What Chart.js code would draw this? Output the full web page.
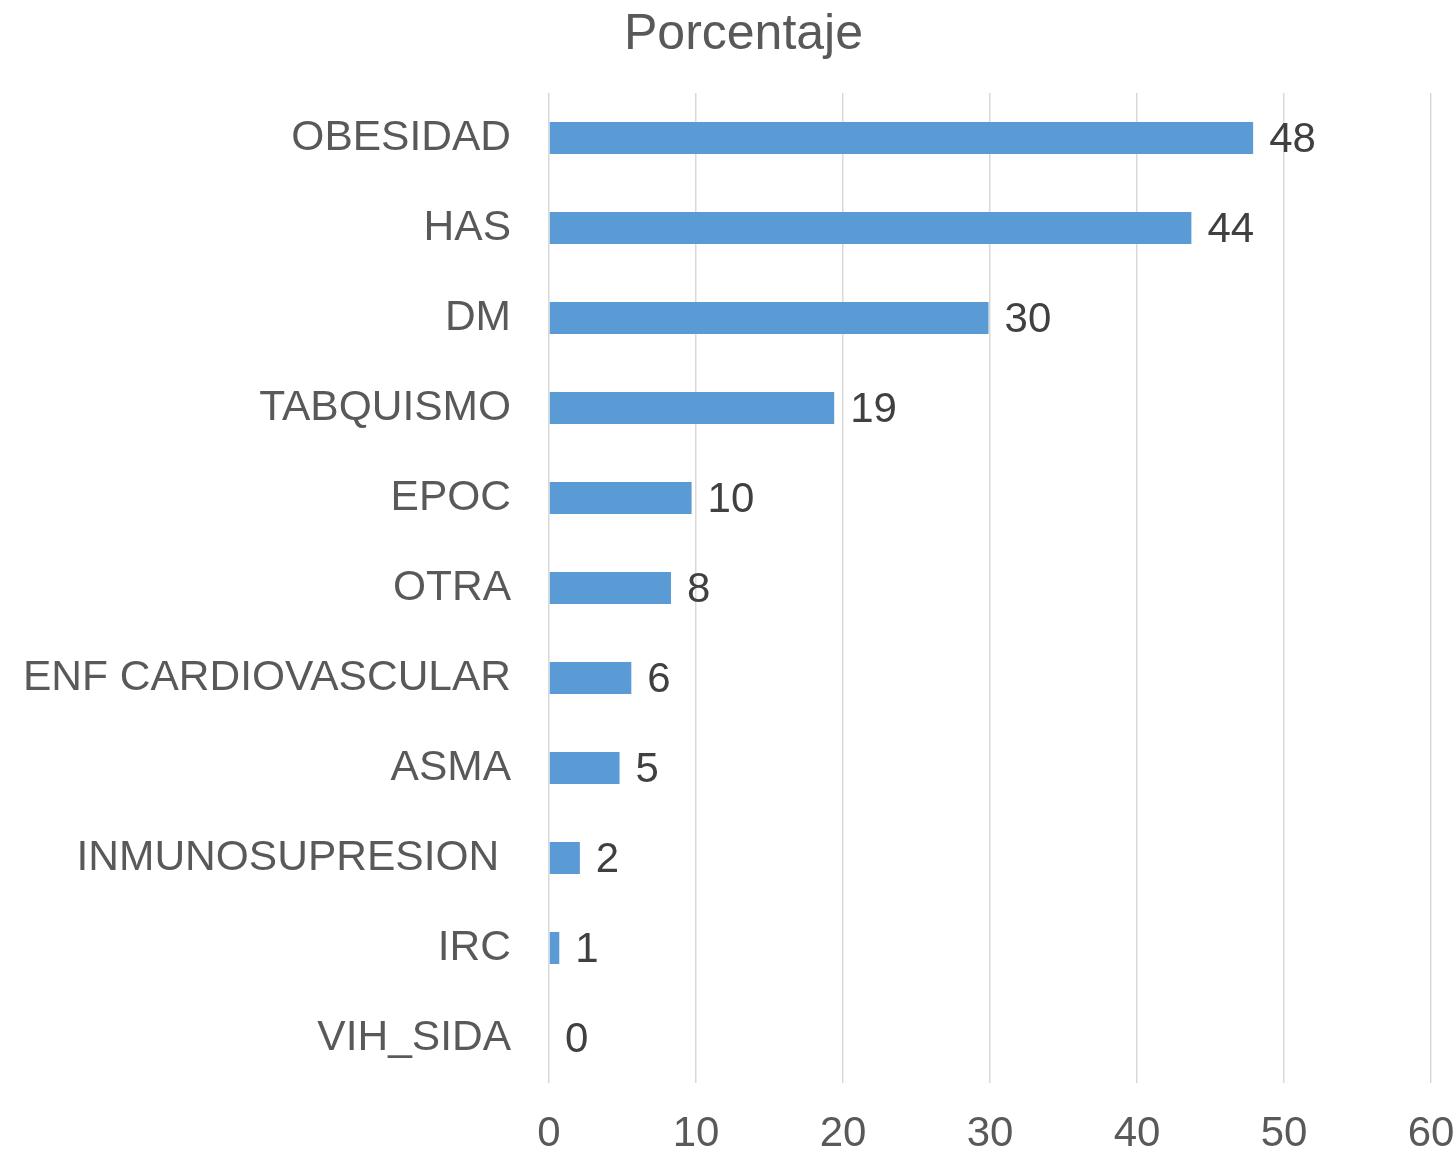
<!DOCTYPE html>
<html>
<head>
<meta charset="utf-8">
<script src="https://cdn.jsdelivr.net/npm/chart.js@4/dist/chart.umd.min.js"></script>
<style>
  html, body { margin: 0; padding: 0; background: #ffffff; }
  #wrap { width: 1455px; height: 1150px; position: relative; }
</style>
</head>
<body>
<div id="wrap"><canvas id="c"></canvas></div>
<script>
const categories = ['OBESIDAD', 'HAS', 'DM', 'TABQUISMO', 'EPOC', 'OTRA', 'ENF CARDIOVASCULAR', 'ASMA', 'INMUNOSUPRESION ', 'IRC', 'VIH_SIDA'];
const porcentaje = [47.9, 43.7, 29.9, 19.4, 9.7, 8.3, 5.6, 4.8, 2.1, 0.7, 0];
const xTicks = [0, 10, 20, 30, 40, 50, 60];
const chartTitle = 'Porcentaje';

const FONT = "'Liberation Sans', Arial, sans-serif";

const valueLabels = {
  id: 'valueLabels',
  afterDatasetsDraw(chart) {
    const ctx = chart.ctx;
    const meta = chart.getDatasetMeta(0);
    ctx.save();
    ctx.font = '42px ' + FONT;
    ctx.fillStyle = '#404040';
    ctx.textAlign = 'left';
    ctx.textBaseline = 'middle';
    meta.data.forEach((bar, i) => {
      const v = porcentaje[i];
      ctx.fillText(String(Math.round(v)), bar.x + 16, bar.y + 2);
    });
    ctx.restore();
  }
};

const shiftTitle = {
  id: 'shiftTitle',
  afterLayout(chart) {
    if (chart.titleBlock) { chart.titleBlock.left = 32; }
  }
};

new Chart(document.getElementById('c'), {
  type: 'bar',
  data: {
    labels: categories,
    datasets: [{
      label: chartTitle,
      data: porcentaje,
      backgroundColor: '#5B9BD5',
      borderWidth: 0,
      categoryPercentage: 1,
      barPercentage: 0.356
    }]
  },
  options: {
    indexAxis: 'y',
    responsive: true,
    maintainAspectRatio: false,
    animation: false,
    layout: { padding: { left: 0, right: 0, top: 0, bottom: 0 } },
    plugins: {
      legend: { display: false },
      tooltip: { enabled: false },
      title: {
        display: true,
        text: chartTitle,
        color: '#595959',
        font: { family: FONT, size: 50, weight: 'normal', lineHeight: 1.2 },
        padding: { top: 5, bottom: 28 }
      }
    },
    scales: {
      x: {
        min: 0,
        max: 60,
        afterBuildTicks(scale) { scale.ticks = xTicks.map(v => ({ value: v })); },
        afterFit(scale) { scale.height = 67; scale.paddingRight = 24; scale.paddingLeft = 0; },
        grid: { color: '#D9D9D9', lineWidth: 1.5, drawTicks: false },
        border: { display: false },
        ticks: {
          color: '#595959',
          padding: 26,
          font: { family: FONT, size: 42 },
          maxRotation: 0
        }
      },
      y: {
        afterFit(scale) { scale.width = 549; },
        grid: { display: false, drawTicks: false },
        border: { display: false },
        ticks: {
          color: '#595959',
          padding: 38,
          font: { family: FONT, size: 42.5 },
          autoSkip: false
        }
      }
    }
  },
  plugins: [valueLabels, shiftTitle]
});
</script>
</body>
</html>
